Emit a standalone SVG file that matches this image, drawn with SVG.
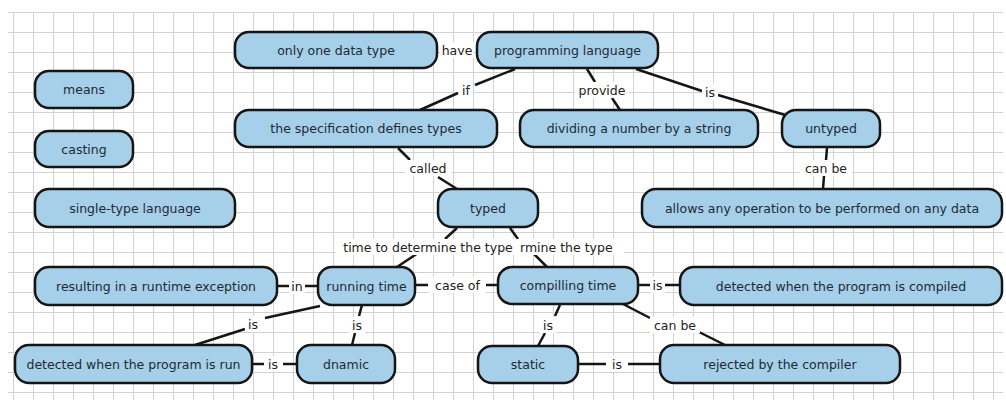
<svg xmlns="http://www.w3.org/2000/svg" width="1006" height="400" viewBox="0 0 1006 400">
<style>
.node rect{fill:#a6cfe9;stroke:#151515;stroke-width:2.5}
.node text{font-family:"DejaVu Sans",sans-serif;font-size:12.5px;fill:#1e2a33;text-anchor:middle}
.lbl rect{fill:#fff}
.lbl text{font-family:"DejaVu Sans",sans-serif;font-size:12.5px;fill:#222;text-anchor:middle}
#connectors line{stroke:#151515;stroke-width:2.5}
</style>
<defs>
<pattern id="grid" patternUnits="userSpaceOnUse" x="13" y="12" width="20" height="20">
<path d="M0 0.5H20M0.5 0V20" stroke="#d2d2d2" stroke-width="1" fill="none"/>
</pattern>
</defs>
<rect width="1006" height="400" fill="#fff"/>
<rect x="8" y="12" width="995" height="388" fill="url(#grid)"/>
<g id="connectors">
<line x1="515" y1="69" x2="475" y2="85"/>
<line x1="458" y1="93" x2="420" y2="110"/>
<line x1="587" y1="69" x2="595" y2="82"/>
<line x1="612" y1="98" x2="620" y2="110"/>
<line x1="636" y1="69" x2="702" y2="91"/>
<line x1="718" y1="95" x2="792" y2="117"/>
<line x1="398" y1="148" x2="410" y2="160"/>
<line x1="438" y1="177" x2="457" y2="189"/>
<line x1="827" y1="148" x2="826" y2="160"/>
<line x1="824" y1="176" x2="823" y2="189"/>
<line x1="457" y1="228" x2="445" y2="239"/>
<line x1="418" y1="253" x2="397" y2="267"/>
<line x1="510" y1="228" x2="518" y2="239"/>
<line x1="533" y1="253" x2="547" y2="267"/>
<line x1="277" y1="286" x2="290" y2="286"/>
<line x1="304" y1="286" x2="318" y2="286"/>
<line x1="415" y1="285" x2="428" y2="285"/>
<line x1="486" y1="285" x2="498" y2="285"/>
<line x1="638" y1="285" x2="650" y2="285"/>
<line x1="665" y1="285" x2="680" y2="285"/>
<line x1="362" y1="305" x2="359" y2="316"/>
<line x1="355" y1="333" x2="352" y2="345"/>
<line x1="320" y1="306" x2="265" y2="318"/>
<line x1="245" y1="329" x2="195" y2="345"/>
<line x1="252" y1="364" x2="264" y2="364"/>
<line x1="283" y1="364" x2="297" y2="364"/>
<line x1="560" y1="305" x2="555" y2="316"/>
<line x1="545" y1="333" x2="538" y2="346"/>
<line x1="623" y1="304" x2="650" y2="318"/>
<line x1="693" y1="329" x2="725" y2="345"/>
<line x1="578" y1="364" x2="606" y2="364"/>
<line x1="628" y1="364" x2="660" y2="364"/>
</g>
<g id="labels">
<g class="lbl"><rect x="440" y="42" width="34" height="16"/><text x="457" y="54.5">have</text></g>
<g class="lbl"><rect x="459" y="82" width="14" height="16"/><text x="466" y="94.5">if</text></g>
<g class="lbl"><rect x="575" y="82" width="54" height="16"/><text x="602" y="94.5">provide</text></g>
<g class="lbl"><rect x="702" y="84" width="16" height="16"/><text x="710" y="96.5">is</text></g>
<g class="lbl"><rect x="405" y="160" width="46" height="16"/><text x="428" y="172.5">called</text></g>
<g class="lbl"><rect x="800" y="160" width="52" height="16"/><text x="826" y="172.5">can be</text></g>
<g class="lbl"><rect x="336" y="239" width="288" height="16"/><text x="428" y="251.5">time to determine the type</text><text x="520" y="251.5" style="text-anchor:start">rmine the type</text></g>
<g class="lbl"><rect x="289" y="278" width="16" height="16"/><text x="297" y="290.5">in</text></g>
<g class="lbl"><rect x="429" y="277" width="57" height="16"/><text x="457.5" y="289.5">case of</text></g>
<g class="lbl"><rect x="650" y="277" width="15" height="16"/><text x="657.5" y="289.5">is</text></g>
<g class="lbl"><rect x="349" y="317" width="16" height="16"/><text x="357" y="329.5">is</text></g>
<g class="lbl"><rect x="245" y="316" width="16" height="16"/><text x="253" y="328.5">is</text></g>
<g class="lbl"><rect x="264" y="356" width="19" height="16"/><text x="273" y="368.5">is</text></g>
<g class="lbl"><rect x="540" y="317" width="16" height="16"/><text x="548" y="329.5">is</text></g>
<g class="lbl"><rect x="650" y="317" width="50" height="16"/><text x="675" y="329.5">can be</text></g>
<g class="lbl"><rect x="606" y="356" width="22" height="16"/><text x="617" y="368.5">is</text></g>
</g>
<g id="n1" class="node"><rect x="235" y="32" width="202" height="36" rx="14"/><text x="336" y="54.5">only one data type</text></g>
<g id="n2" class="node"><rect x="477" y="32" width="181" height="36" rx="14"/><text x="567.5" y="54.5">programming language</text></g>
<g id="n3" class="node"><rect x="35" y="71" width="98" height="37" rx="14"/><text x="84" y="94">means</text></g>
<g id="n4" class="node"><rect x="35" y="131" width="98" height="36" rx="14"/><text x="84" y="153.5">casting</text></g>
<g id="n5" class="node"><rect x="35" y="189" width="200" height="38" rx="14"/><text x="135" y="212.5">single-type language</text></g>
<g id="n6" class="node"><rect x="235" y="110" width="262" height="37" rx="14"/><text x="366" y="133">the specification defines types</text></g>
<g id="n7" class="node"><rect x="520" y="110" width="238" height="37" rx="14"/><text x="639" y="133">dividing a number by a string</text></g>
<g id="n8" class="node"><rect x="782" y="110" width="98" height="37" rx="14"/><text x="831" y="133">untyped</text></g>
<g id="n9" class="node"><rect x="438" y="189" width="100" height="38" rx="14"/><text x="488" y="212.5">typed</text></g>
<g id="n10" class="node"><rect x="642" y="189" width="360" height="38" rx="14"/><text x="822" y="212.5">allows any operation to be performed on any data</text></g>
<g id="n11" class="node"><rect x="35" y="267" width="242" height="38" rx="14"/><text x="156" y="290.5">resulting in a runtime exception</text></g>
<g id="n12" class="node"><rect x="318" y="267" width="97" height="38" rx="14"/><text x="366.5" y="290.5">running time</text></g>
<g id="n13" class="node"><rect x="498" y="267" width="140" height="37" rx="14"/><text x="568" y="290">compilling time</text></g>
<g id="n14" class="node"><rect x="680" y="267" width="322" height="38" rx="14"/><text x="841" y="290.5">detected when the program is compiled</text></g>
<g id="n15" class="node"><rect x="15" y="345" width="237" height="38" rx="14"/><text x="133.5" y="368.5">detected when the program is run</text></g>
<g id="n16" class="node"><rect x="297" y="345" width="98" height="38" rx="14"/><text x="346" y="368.5">dnamic</text></g>
<g id="n17" class="node"><rect x="478" y="346" width="100" height="37" rx="14"/><text x="528" y="369">static</text></g>
<g id="n18" class="node"><rect x="660" y="345" width="240" height="38" rx="14"/><text x="780" y="368.5">rejected by the compiler</text></g>
</svg>
